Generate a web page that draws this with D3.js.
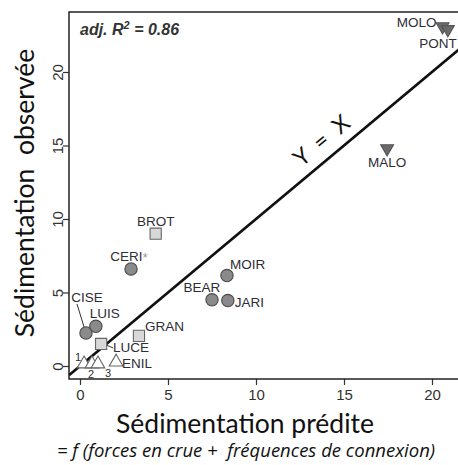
<!DOCTYPE html>
<html><head><meta charset="utf-8">
<script src="https://cdn.jsdelivr.net/npm/d3@7"></script>
<style>
body{margin:0;background:#fff;}
svg{display:block;}
</style></head>
<body>
<svg id="c" width="458" height="465"></svg>
<script>
// ---- data ----
const sites = ["MOLO","PONT","MALO","BROT","CERI","MOIR","BEAR","JARI","CISE","LUIS","GRAN","LUCE","ENIL","1","2","3"];
const predicted = [20.6, 20.9, 17.45, 4.3, 2.9, 8.35, 7.5, 8.4, 0.34, 0.9, 3.35, 1.2, 2.05, 0.23, 0.68, 1.02];
const observed  = [23.1, 22.9, 14.8, 9.0, 6.6, 6.15, 4.5, 4.45, 2.25, 2.7, 2.05, 1.5, 0.27, 0.14, 0.14, 0.14];
const groups = ["down","down","down","square","circle","circle","circle","circle","circle","circle","square","square","tri","tri","tri","tri"];
const xTicks = [0,5,10,15,20];
const yTicks = [0,5,10,15,20];
const r2Label = "0.86";

// ---- label placement (px offsets from the point) ----
const labelPlace = {
  MOLO:[-6,-4,"end"], PONT:[9,14,"end"], MALO:[0,14,"middle"], BROT:[0,-12,"middle"],
  CERI:[-2,-12,"middle"], MOIR:[3,-11,"start"], BEAR:[-10,-12,"middle"], JARI:[7,2,"start"],
  CISE:[1,-35,"middle"], LUIS:[9,-13,"middle"], GRAN:[6,-9,"start"], LUCE:[12,4,"start"],
  ENIL:[6,1,"start"], "1":[-6,-7,"middle"], "2":[-1,10,"middle"], "3":[10,9,"middle"]
};

const svg = d3.select("#c");
const L = 69, R = 470, T = 12, B = 379;
const x = d3.scaleLinear().domain([-0.625, (R-80)/17.6]).range([L, R]);
const y = d3.scaleLinear().domain([-0.884, 24.08]).range([B, T]);

svg.append("clipPath").attr("id","clip").append("rect").attr("x",L).attr("y",T).attr("width",R-L).attr("height",B-T);

// axes
const gx = svg.append("g").attr("transform",`translate(0,${B})`)
  .call(d3.axisBottom(x).tickValues(xTicks).tickSize(6).tickSizeOuter(0).tickPadding(4));
gx.select(".domain").remove();
gx.selectAll(".tick line").attr("stroke","#333").attr("stroke-width",1.2);
gx.selectAll(".tick text").attr("font-family","Liberation Sans, Arial, sans-serif").attr("font-size",15).attr("fill","#333");

const gy = svg.append("g").attr("transform",`translate(${L},0)`)
  .call(d3.axisLeft(y).tickValues(yTicks).tickSize(6).tickSizeOuter(0));
gy.select(".domain").remove();
gy.selectAll(".tick line").attr("stroke","#333").attr("stroke-width",1.2);
gy.selectAll(".tick text")
  .attr("font-family","Liberation Sans, Arial, sans-serif").attr("font-size",15).attr("fill","#333")
  .attr("x",0).attr("dy",null).attr("dominant-baseline","central")
  .attr("text-anchor","middle")
  .attr("transform","translate(-12,0) rotate(-90)");

// frame
svg.append("rect").attr("x",L).attr("y",T).attr("width",R-L).attr("height",B-T)
  .attr("fill","none").attr("stroke","#222").attr("stroke-width",1.5);

// y = x line
const plot = svg.append("g").attr("clip-path","url(#clip)");
const lineDom = [-0.625, 23];
plot.append("line")
  .attr("x1",x(lineDom[0])).attr("y1",y(lineDom[0]))
  .attr("x2",x(lineDom[1])).attr("y2",y(lineDom[1]))
  .attr("stroke","#111").attr("stroke-width",2.6);

// Y = X annotation
const ang = Math.atan2(y(10)-y(0), x(10)-x(0)) * 180/Math.PI;
const ax = 13.9;
svg.append("text")
  .attr("transform",`translate(${x(ax)+2},${y(ax)-15}) rotate(${ang})`)
  .attr("text-anchor","middle")
  .attr("font-family","Lato, 'Open Sans', sans-serif").attr("font-size",23)
  .attr("fill","#111").attr("xml:space","preserve").style("white-space","pre")
  .text("Y  =  X");

// leader lines
function leader(name, x1, y1, x2, y2){
  const i = sites.indexOf(name);
  const px = x(predicted[i]), py = y(observed[i]);
  svg.append("line").attr("x1",px+x1).attr("y1",py+y1).attr("x2",px+x2).attr("y2",py+y2)
    .attr("stroke","#333").attr("stroke-width",1);
}
leader("CISE", -1, -3, -9, -29);
leader("LUCE", 5, 1, 12, 4);

// markers
const style = {
  circle:{type:d3.symbolCircle,size:120,fill:"#8a8a8a",stroke:"#4a4a4a",rot:0},
  square:{type:d3.symbolSquare,size:125,fill:"#d8d8d8",stroke:"#666",rot:0},
  down:{type:d3.symbolTriangle,size:72,fill:"#6a6a6a",stroke:"#555",rot:180},
  tri:{type:d3.symbolTriangle,size:80,fill:"#fff",stroke:"#666",rot:0}
};
const pts = sites.map((s,i)=>({s, px:predicted[i], ob:observed[i], g:groups[i]}));
svg.append("g").selectAll("path").data(pts).join("path")
  .attr("d", d => d3.symbol().type(style[d.g].type).size(style[d.g].size)())
  .attr("transform", d => `translate(${x(d.px)},${y(d.ob)}) rotate(${style[d.g].rot})`)
  .attr("fill", d => style[d.g].fill)
  .attr("stroke", d => style[d.g].stroke)
  .attr("stroke-width", 1.1);

// labels
const lab = svg.append("g").selectAll("text").data(pts).join("text")
  .attr("x", d => x(d.px) + labelPlace[d.s][0])
  .attr("y", d => y(d.ob) + labelPlace[d.s][1])
  .attr("text-anchor", d => labelPlace[d.s][2])
  .attr("dominant-baseline","central")
  .attr("font-family","Liberation Sans, Arial, sans-serif")
  .attr("font-size", d => d.g === "tri" && d.s.length === 1 ? 11 : 13.5)
  .attr("fill","#2d2d35")
  .text(d => d.s);
lab.filter(d => d.s === "CERI").append("tspan").attr("fill","#999").text("*");

// R2 annotation
const r2 = svg.append("text").attr("x",80).attr("y",35)
  .attr("font-family","Liberation Sans, Arial, sans-serif").attr("font-size",16)
  .attr("font-weight","bold").attr("font-style","italic").attr("fill","#333");
r2.append("tspan").text("adj. R");
r2.append("tspan").attr("font-size",11).attr("dy",-6).text("2");
r2.append("tspan").attr("dy",6).text(" = " + r2Label);

// axis titles
svg.append("text").attr("x",245).attr("y",433).attr("text-anchor","middle")
  .attr("font-family","Lato, 'Open Sans', sans-serif").attr("font-size",26.5).attr("fill","#111")
  .text("Sédimentation prédite");
svg.append("text").attr("x",246).attr("y",457).attr("text-anchor","middle")
  .attr("font-family","'Open Sans', Lato, sans-serif").attr("font-size",18.5).attr("font-style","italic").attr("fill","#111")
  .attr("xml:space","preserve").style("white-space","pre")
  .text("= f (forces en crue +  fréquences de connexion)");
svg.append("text").attr("transform","translate(34,193) rotate(-90)").attr("text-anchor","middle")
  .attr("font-family","Lato, 'Open Sans', sans-serif").attr("font-size",26.5).attr("fill","#111")
  .attr("xml:space","preserve").style("white-space","pre")
  .text("Sédimentation  observée");
</script>
</body></html>
